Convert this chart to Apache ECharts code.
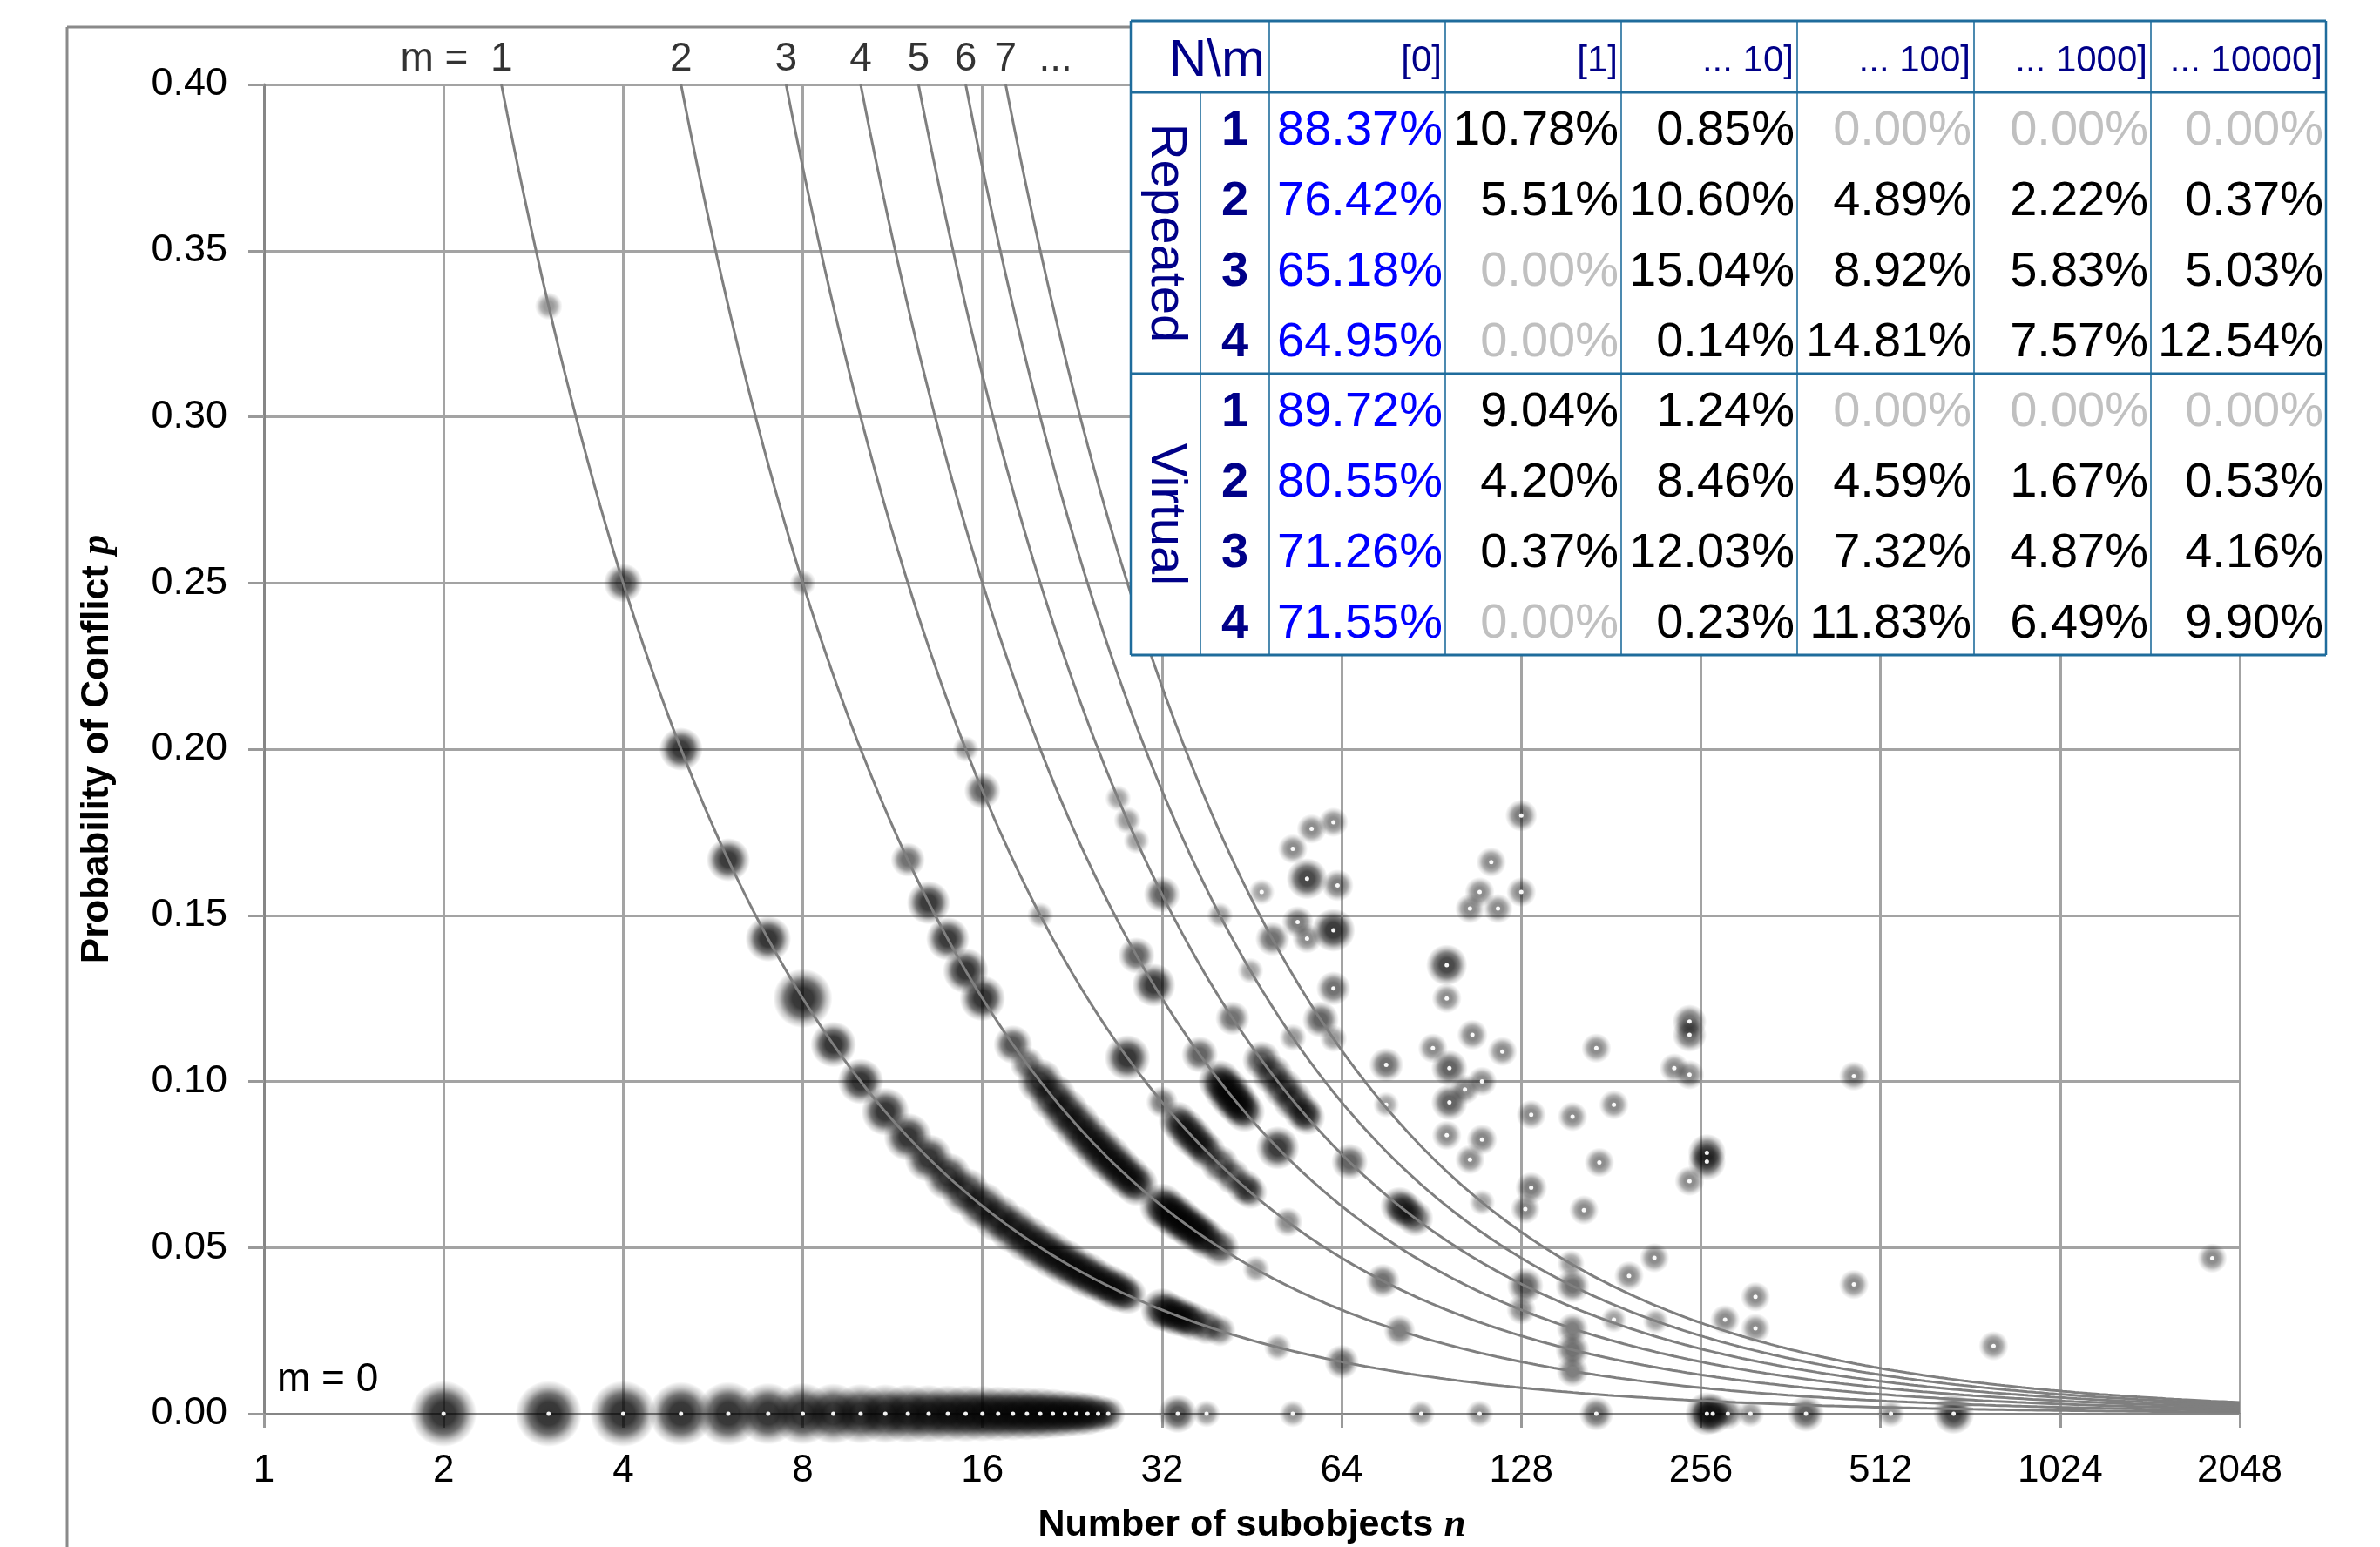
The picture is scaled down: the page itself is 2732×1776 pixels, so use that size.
<!DOCTYPE html>
<html><head><meta charset="utf-8">
<script src="https://cdn.jsdelivr.net/npm/echarts@6/dist/echarts.min.js"></script>
<style>html,body{margin:0;padding:0;background:#fff;} #chart{width:2732px;height:1776px;}</style>
</head><body><div id="chart"></div>
<script>
// ---------------- DATA ----------------
const xTickLabels = [1, 2, 4, 8, 16, 32, 64, 128, 256, 512, 1024, 2048];
const yTickLabels = ['0.00','0.05','0.10','0.15','0.20','0.25','0.30','0.35','0.40'];
const curveM = [1, 2, 3, 4, 5, 6, 7];           // iso-lines p = m / n

// m = 0 row (p = 0): n and weight
const zeroRowN = [2,3,4,5,6,7,8,9,10,11,12,13,14,15,16,17,18,19,20,21,22,23,24,25,26,34,38,53,87,109,171,262,268,284,310,384,533,679];
const zeroRowW = [1,1,1,0.95,0.95,0.9,0.9,0.88,0.86,0.85,0.84,0.82,0.8,0.8,0.78,0.76,0.74,0.72,0.7,0.65,0.6,0.55,0.5,0.4,0.3,0.4,0.15,0.15,0.15,0.15,0.3,0.5,0.45,0.25,0.15,0.35,0.15,0.45];

// points [n, p, weight]
const onCurve1 = [[3,0.3333,0.15],[4,0.25,0.4],[5,0.2,0.5],[6,0.1667,0.5],[7,0.1429,0.55],[8,0.125,0.85],[9,0.1111,0.55],[10,0.1,0.55],[11,0.0909,0.6],[12,0.0833,0.6],[13,0.0769,0.6],[14,0.0714,0.6],[15,0.0667,0.62],[16,0.0625,0.62],[17,0.0588,0.62],[18,0.0556,0.62],[19,0.0526,0.6],[20,0.05,0.6],[21,0.0476,0.58],[22,0.0455,0.58],[23,0.0435,0.55],[24,0.0417,0.55],[25,0.04,0.5],[26,0.0385,0.5],[27,0.037,0.5],[28,0.0357,0.4],[32,0.0313,0.5],[33,0.0303,0.45],[34,0.0294,0.45],[35,0.0286,0.4],[36,0.0278,0.4],[38,0.0263,0.35],[40,0.025,0.25],[50,0.02,0.15],[64,0.0156,0.3]];
const onCurve2 = [[8,0.25,0.12],[12,0.1667,0.3],[13,0.1538,0.5],[14,0.1429,0.5],[15,0.1333,0.55],[16,0.125,0.55],[18,0.1111,0.4],[19,0.1053,0.3],[20,0.1,0.55],[21,0.0952,0.6],[22,0.0909,0.6],[23,0.087,0.6],[24,0.0833,0.6],[25,0.08,0.6],[26,0.0769,0.6],[27,0.0741,0.55],[28,0.0714,0.55],[29,0.069,0.5],[32,0.0625,0.55],[33,0.0606,0.55],[34,0.0588,0.55],[35,0.0571,0.5],[36,0.0556,0.5],[37,0.0541,0.45],[38,0.0526,0.45],[40,0.05,0.4],[46,0.0435,0.15],[80,0.025,0.25],[156,0.0128,0.25]];
const onCurve3 = [[15,0.2,0.12],[16,0.1875,0.35],[20,0.15,0.12],[28,0.1071,0.55],[32,0.0938,0.25],[34,0.0882,0.4],[35,0.0857,0.45],[36,0.0833,0.45],[37,0.0811,0.4],[38,0.0789,0.4],[40,0.075,0.4],[42,0.0714,0.35],[44,0.0682,0.35],[45,0.0667,0.3],[52,0.0577,0.2],[75,0.04,0.3],[156,0.0192,0.3]];
const onCurve4 = [[29,0.1379,0.35],[31,0.129,0.5],[37,0.1081,0.35],[40,0.1,0.5],[41,0.0976,0.55],[42,0.0952,0.55],[43,0.093,0.5],[44,0.0909,0.45],[50,0.08,0.5],[128,0.0313,0.2],[156,0.0256,0.25]];
const onCurve5 = [[27,0.1852,0.12],[28,0.1786,0.15],[29,0.1724,0.12],[32,0.1563,0.35],[42,0.119,0.3],[47,0.1064,0.4],[49,0.102,0.45],[51,0.098,0.45],[53,0.0943,0.45],[55,0.0909,0.4],[56,0.0893,0.35],[66,0.0758,0.35],[80,0.0625,0.4],[82,0.061,0.4],[85,0.0588,0.35],[130,0.0385,0.35]];
const onCurve6 = [[40,0.15,0.12],[45,0.1333,0.12],[53,0.1132,0.15],[156,0.0385,0.3],[215,0.0279,0.12]];
const onCurve7 = [[49,0.1429,0.3],[59,0.1186,0.35],[62,0.1129,0.15],[110,0.0636,0.12],[155,0.0452,0.15]];
const scattered = [[53,0.170,0.2],[57,0.176,0.2],[62,0.178,0.2],[56,0.161,0.45],[63,0.159,0.25],[54,0.148,0.25],[56,0.143,0.2],[62,0.1455,0.5],[62,0.128,0.3],[47,0.157,0.12],
  [128,0.180,0.25],[114,0.166,0.2],[109,0.157,0.2],[105,0.152,0.2],[117,0.152,0.2],[128,0.157,0.2],
  [96,0.135,0.45],[96,0.125,0.2],[106,0.114,0.22],[91,0.110,0.2],[119,0.109,0.2],[76,0.105,0.3],[97,0.104,0.35],[110,0.100,0.2],[103,0.0976,0.2],[97,0.0937,0.35],[76,0.093,0.12],[96,0.0838,0.2],[110,0.0825,0.22],[105,0.0765,0.2],
  [133,0.090,0.2],[156,0.0894,0.2],[183,0.093,0.2],[171,0.110,0.2],[173,0.0756,0.2],[163,0.0613,0.2],[133,0.068,0.25],[130,0.0616,0.2],
  [245,0.118,0.3],[245,0.114,0.3],[231,0.104,0.2],[245,0.102,0.2],[262,0.0785,0.38],[262,0.0759,0.38],[245,0.070,0.2],
  [316,0.0352,0.2],[281,0.0283,0.2],[316,0.0257,0.2],[214,0.0469,0.2],[194,0.0415,0.2],[183,0.0283,0.12],
  [462,0.1016,0.2],[462,0.0389,0.2],[792,0.0204,0.2],[1842,0.0468,0.2]];

// table
const tableCols = ['[0]', '[1]', '... 10]', '... 100]', '... 1000]', '... 10000]'];
const tableGroups = ['Repeated', 'Virtual'];
const tableRowN = ['1', '2', '3', '4'];
const repeatedRows = [
  ['88.37%','10.78%','0.85%','0.00%','0.00%','0.00%'],
  ['76.42%','5.51%','10.60%','4.89%','2.22%','0.37%'],
  ['65.18%','0.00%','15.04%','8.92%','5.83%','5.03%'],
  ['64.95%','0.00%','0.14%','14.81%','7.57%','12.54%']];
const virtualRows = [
  ['89.72%','9.04%','1.24%','0.00%','0.00%','0.00%'],
  ['80.55%','4.20%','8.46%','4.59%','1.67%','0.53%'],
  ['71.26%','0.37%','12.03%','7.32%','4.87%','4.16%'],
  ['71.55%','0.00%','0.23%','11.83%','6.49%','9.90%']];

// ---------------- BUILD ----------------
const FONT = '"Liberation Sans", Arial, sans-serif';
const zeroPts = zeroRowN.map((n, i) => [n, 0, zeroRowW[i]]);
const curvePts = [].concat(onCurve1, onCurve2, onCurve3, onCurve4, onCurve5, onCurve6, onCurve7);
const allPts = zeroPts.concat(curvePts, scattered);
const alphaOf = w => Math.min(1, 0.3 + 1.35 * w);
const sizeOf = w => 24 + 52 * w;
function blobColor(a) {
  const c = v => 'rgba(0,0,0,' + v.toFixed(3) + ')';
  return { type: 'radial', x: 0.5, y: 0.5, r: 0.5, colorStops: [
    { offset: 0, color: c(a) },
    { offset: 0.35, color: c(a * 0.97) },
    { offset: 0.6, color: c(a * 0.7) },
    { offset: 0.8, color: c(a * 0.28) },
    { offset: 1, color: c(0) } ] };
}
const blobData = allPts.map(d => ({ value: [d[0], d[1], d[2]], symbolSize: sizeOf(d[2]), itemStyle: { color: blobColor(alphaOf(d[2])) } }));
const dotData = zeroPts.concat(scattered).map(d => [d[0], d[1]]);

const yMax = 0.4, xMax = xTickLabels[xTickLabels.length - 1];
function curveData(m) {
  const pts = [];
  const e0 = Math.log2(m / yMax), e1 = Math.log2(xMax);
  for (let k = 0; k <= 300; k++) { const n = Math.pow(2, e0 + (e1 - e0) * k / 300); pts.push([n, m / n]); }
  return pts;
}
const curveSeries = curveM.map(m => ({
  type: 'line', data: curveData(m), showSymbol: false, symbol: 'none', silent: true, z: 4,
  lineStyle: { color: '#7f7f7f', width: 3 }, animation: false
}));
const labelData = curveM.map((m, i) => {
  let txt = String(m), align = 'center', off = [0, 0];
  if (i === 0) { txt = 'm =  ' + m; align = 'right'; off = [13, 0]; }
  if (i === curveM.length - 1) { txt = m + '  ...'; align = 'left'; off = [-13, 0]; }
  return { value: [m / yMax, yMax], label: { formatter: txt, align: align, offset: off } };
});

// table graphic
const colEdges = [1298, 1378, 1457, 1659, 1861, 2063, 2266, 2469, 2670];
const rowEdges = [24, 106, 186.75, 267.5, 348.25, 429, 509.75, 590.5, 671.25, 752];
const TC = '#1f6c9c', NAVY = '#000088';
const g = [];
function txt(x, y, text, o) {
  o = o || {};
  g.push({ type: 'text', x: x, y: y, rotation: o.rot || 0, z: 102, silent: true,
    style: { text: text, fill: o.fill || '#000', fontSize: o.size || 56, fontFamily: FONT, fontWeight: o.bold ? 'bold' : 'normal',
      align: o.align || 'right', textAlign: o.align || 'right', verticalAlign: 'middle', textVerticalAlign: 'middle' } });
}
g.push({ type: 'line', shape: { x1: 77, y1: 31, x2: 2670, y2: 31 }, style: { stroke: '#8a8a8a', lineWidth: 3 }, z: 99, silent: true });
g.push({ type: 'line', shape: { x1: 77, y1: 31, x2: 77, y2: 1776 }, style: { stroke: '#8a8a8a', lineWidth: 3 }, z: 99, silent: true });
g.push({ type: 'rect', shape: { x: colEdges[0], y: rowEdges[0], width: colEdges[8] - colEdges[0], height: rowEdges[9] - rowEdges[0] }, style: { fill: '#fff' }, z: 100, silent: true });
[rowEdges[0], rowEdges[1], rowEdges[5], rowEdges[9]].forEach(y => g.push({ type: 'line', shape: { x1: colEdges[0], y1: y, x2: colEdges[8], y2: y }, style: { stroke: TC, lineWidth: 3 }, z: 101, silent: true }));
colEdges.forEach((x, i) => g.push({ type: 'line', shape: { x1: x, y1: i === 1 ? rowEdges[1] : rowEdges[0], x2: x, y2: rowEdges[9] }, style: { stroke: TC, lineWidth: (i === 0 || i === 8) ? 2.5 : 1.6 }, z: 101, silent: true }));
txt(colEdges[2] - 5, 70, 'N\\m', { fill: NAVY, size: 60 });
tableCols.forEach((c, j) => txt(colEdges[j + 3] - 4, 70, c, { fill: NAVY, size: 42 }));
[repeatedRows, virtualRows].forEach((rows, gi) => {
  const top = rowEdges[1 + gi * 4], bot = rowEdges[5 + gi * 4];
  txt((colEdges[0] + colEdges[1]) / 2, (top + bot) / 2, tableGroups[gi], { fill: NAVY, size: 58, align: 'center', rot: -Math.PI / 2 });
  rows.forEach((row, ri) => {
    const yc = rowEdges[1 + gi * 4 + ri] + 45;
    txt((colEdges[1] + colEdges[2]) / 2, yc, tableRowN[ri], { fill: NAVY, size: 56, bold: true, align: 'center' });
    row.forEach((v, j) => {
      const fill = j === 0 ? '#0000ff' : (v === '0.00%' ? '#c0c0c0' : '#000');
      txt(colEdges[j + 3] - 3, yc, v, { fill: fill, size: 56 });
    });
  });
});
txt(318, 1584, 'm = 0', { size: 46, align: 'left' });

const chart = echarts.init(document.getElementById('chart'));
chart.setOption({
  animation: false,
  backgroundColor: '#fff',
  grid: { left: 303, right: 161, top: 97, bottom: 153, containLabel: false, outerBoundsMode: 'none' },
  xAxis: {
    type: 'log', logBase: 2, min: xTickLabels[0], max: xMax, interval: 1,
    name: 'Number of subobjects {i|n}', nameLocation: 'middle', nameGap: 106,
    nameTextStyle: { fontSize: 43, fontWeight: 'bold', color: '#000', fontFamily: FONT,
      rich: { i: { fontSize: 45, fontStyle: 'italic', fontFamily: '"Liberation Serif", serif', color: '#000' } } },
    axisLine: { show: true, onZero: false, lineStyle: { color: '#868686', width: 3 } },
    axisTick: { show: true, length: 16, lineStyle: { color: '#999', width: 3 } },
    axisLabel: { fontSize: 44, color: '#000', margin: 44, fontFamily: FONT, formatter: v => String(Math.round(v)) },
    splitLine: { show: true, lineStyle: { color: '#a3a3a3', width: 3 } },
    minorTick: { show: false }, minorSplitLine: { show: false }
  },
  yAxis: {
    type: 'value', min: 0, max: yMax, interval: 0.05,
    name: 'Probability of Conflict {i|p}', nameLocation: 'middle', nameGap: 168,
    nameTextStyle: { fontSize: 44, fontWeight: 'bold', color: '#000', fontFamily: FONT,
      rich: { i: { fontSize: 46, fontStyle: 'italic', fontFamily: '"Liberation Serif", serif', color: '#000' } } },
    axisLine: { show: true, lineStyle: { color: '#868686', width: 3 } },
    axisTick: { show: true, length: 18, lineStyle: { color: '#999', width: 3 } },
    axisLabel: { fontSize: 45, color: '#000', margin: 42, fontFamily: FONT, formatter: v => yTickLabels[Math.round(v / 0.05)] },
    splitLine: { show: true, lineStyle: { color: '#a3a3a3', width: 3 } }
  },
  series: [
    { type: 'scatter', data: blobData, z: 2, silent: true, animation: false, clip: true,
      symbolSize: v => sizeOf(v[2]) },
    { type: 'scatter', data: dotData, z: 3, silent: true, symbolSize: 5, itemStyle: { color: '#ffffff', opacity: 0.95 } },
    ...curveSeries,
    { type: 'scatter', data: labelData, z: 5, silent: true, symbolSize: 0, clip: false,
      label: { show: true, position: 'top', distance: 6, fontSize: 46, color: '#000', fontFamily: FONT } }
  ],
  graphic: { elements: g }
});
</script></body></html>
